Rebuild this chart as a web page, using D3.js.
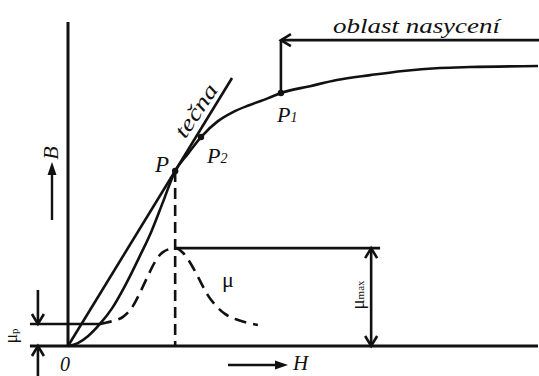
<!DOCTYPE html>
<html><head><meta charset="utf-8">
<script src="https://cdn.jsdelivr.net/npm/d3@7"></script>
<style>html,body{margin:0;padding:0;background:#fff;} svg{display:block;}</style>
</head><body>
<svg id="chart" width="539" height="376"></svg>
<script>
// Magnetization curve B(H), arbitrary units
const curveH = [0, 0.21, 0.43, 0.68, 0.94, 1.21, 1.53, 1.77, 2.02, 2.28, 2.55, 2.83, 3.19, 3.51, 3.87, 4.26, 4.53, 5.15, 5.72, 6.43, 7.13, 7.91, 8.55, 10];
const curveB = [0, 0.09, 0.31, 0.68, 1.17, 1.85, 2.78, 3.52, 4.44, 5.40, 5.93, 6.45, 6.94, 7.22, 7.44, 7.65, 7.81, 8.02, 8.21, 8.36, 8.49, 8.58, 8.61, 8.64];

// Permeability curve mu(H), same units
const muH = [0.68, 0.94, 1.17, 1.38, 1.53, 1.68, 1.85, 2.02, 2.28, 2.45, 2.64, 2.81, 2.96, 3.13, 3.34, 3.62, 4.04];
const muVal = [0.68, 0.77, 0.90, 1.23, 1.64, 2.10, 2.59, 2.90, 3.02, 2.87, 2.47, 2.01, 1.60, 1.27, 0.99, 0.80, 0.65];

// Tangent from the origin through P
const tangentH = [0, 3.49];
const tangentB = [0, 8.27];

// Marked points on the curve
const pointNames = ["P", "P2", "P1"];
const pointH = [2.28, 2.83, 4.53];
const pointB = [5.40, 6.45, 7.81];

// Initial and maximum permeability levels
const muP = 0.68;
const muMax = 3.02;

const svg = d3.select("#chart");
const x = d3.scaleLinear().domain([0, 10]).range([68, 538]);
const y = d3.scaleLinear().domain([0, 10]).range([346, 22]);

const ink = "#111";
const serif = "'Liberation Serif', 'Times New Roman', 'DejaVu Serif', serif";

function seg(x1, y1, x2, y2, w, dash) {
  const l = svg.append("line").attr("x1", x1).attr("y1", y1).attr("x2", x2).attr("y2", y2)
    .attr("stroke", ink).attr("stroke-width", w || 2.6);
  if (dash) l.attr("stroke-dasharray", dash);
  return l;
}
// open "V" arrowhead with tip at (tx,ty) pointing along (dx,dy)
function openHead(tx, ty, dx, dy) {
  const len = 10, half = 6;
  const px = -dy, py = dx;
  const bx = tx - dx * len, by = ty - dy * len;
  svg.append("polyline")
    .attr("points", `${bx + px * half},${by + py * half} ${tx},${ty} ${bx - px * half},${by - py * half}`)
    .attr("fill", "none").attr("stroke", ink).attr("stroke-width", 2.6);
}
// solid triangular arrowhead
function filledHead(tx, ty, dx, dy) {
  const len = 13, half = 4.5;
  const px = -dy, py = dx;
  const bx = tx - dx * len, by = ty - dy * len;
  svg.append("polygon")
    .attr("points", `${bx + px * half},${by + py * half} ${tx},${ty} ${bx - px * half},${by - py * half}`)
    .attr("fill", ink);
}

// axes
seg(x(0), y(0), x(0), y(10), 3);
seg(x(-0.81), y(0), x(10), y(0), 3);

// mu_p level and arrows
seg(x(-0.81), y(muP), x(muP), y(muP), 2.6);
const ax = x(-0.64);
seg(ax, y(1.73), ax, y(muP));
openHead(ax, y(muP), 0, 1);
seg(ax, y(0), ax, 376);
openHead(ax, y(0), 0, -1);

// tangent line
const tan = tangentH.map((h, i) => [h, tangentB[i]]);
svg.append("path").attr("d", d3.line().x(d => x(d[0])).y(d => y(d[1]))(tan))
  .attr("fill", "none").attr("stroke", ink).attr("stroke-width", 2.6);

// B-H curve
const bh = curveH.map((h, i) => [h, curveB[i]]);
svg.append("path").attr("d", d3.line().x(d => x(d[0])).y(d => y(d[1])).curve(d3.curveMonotoneX)(bh))
  .attr("fill", "none").attr("stroke", ink).attr("stroke-width", 2.6);

// mu curve (dashed)
const mu = muH.map((h, i) => [h, muVal[i]]);
svg.append("path").attr("d", d3.line().x(d => x(d[0])).y(d => y(d[1])).curve(d3.curveMonotoneX)(mu))
  .attr("fill", "none").attr("stroke", ink).attr("stroke-width", 2.6).attr("stroke-dasharray", "12,7");

// drop line from P
seg(x(pointH[0]), y(pointB[0]), x(pointH[0]), y(0), 2.6, "11,6");

// mu_max level and arrow
seg(x(pointH[0]), y(muMax), x(6.64), y(muMax));
const mx = x(6.45);
seg(mx, y(muMax), mx, y(0));
openHead(mx, y(muMax), 0, -1);
openHead(mx, y(0), 0, 1);

// saturation region marker
seg(x(pointH[2]), y(pointB[2]), x(pointH[2]), y(9.44));
seg(x(pointH[2]), y(9.44), 539, y(9.44));
openHead(x(pointH[2]), y(9.44), -1, 0);

// points
svg.selectAll("circle.pt").data(pointH).join("circle").attr("class", "pt")
  .attr("cx", (d) => x(d)).attr("cy", (d, i) => y(pointB[i])).attr("r", 3.2).attr("fill", ink);

// B and H arrows
seg(52, 220, 52, 172, 2.4);
filledHead(52, 162, 0, -1);
seg(228, 365, 276, 365, 2.4);
filledHead(288, 365, 1, 0);

function label(txt, tx, ty, size, italic) {
  const t = svg.append("text").attr("x", tx).attr("y", ty).attr("font-family", serif)
    .attr("font-size", size).attr("fill", ink).text(txt);
  if (italic) t.attr("font-style", "italic");
  return t;
}

// axis labels
svg.append("text").attr("transform", "translate(58,153) rotate(-90)").attr("text-anchor", "middle")
  .attr("font-family", serif).attr("font-style", "italic").attr("font-size", 22).attr("fill", ink).text("B");
label("H", 293, 370, 21, true);
label("0", 60, 371, 20, true);

// point labels
label("P", 155, 172, 23, true);
const p2 = label("P", 207, 163, 22, true);
p2.append("tspan").attr("font-size", 14).text("2");
const p1 = label("P", 277, 122, 22, true);
p1.append("tspan").attr("font-size", 14).text("1");

// tangent label
svg.append("text").attr("transform", "translate(207,118) rotate(-56)").attr("text-anchor", "middle")
  .attr("dy", -6).attr("font-family", serif).attr("font-style", "italic").attr("font-size", 22)
  .attr("fill", ink).attr("textLength", 60).attr("lengthAdjust", "spacingAndGlyphs").text("tečna");

// saturation label
label("oblast nasycení", 333, 33, 21, true).attr("textLength", 167).attr("lengthAdjust", "spacingAndGlyphs");

// mu labels
label("μ", 222, 287, 22, false);
const mmax = svg.append("text").attr("transform", "translate(364,295) rotate(-90)").attr("text-anchor", "middle")
  .attr("font-family", serif).attr("font-size", 19).attr("fill", ink).text("μ");
mmax.append("tspan").attr("font-size", 11).text("max");
const mp = svg.append("text").attr("transform", "translate(17,336) rotate(-90)").attr("text-anchor", "middle")
  .attr("font-family", serif).attr("font-size", 18).attr("fill", ink).text("μ");
mp.append("tspan").attr("font-size", 11).attr("dy", 1).text("p");
</script>
</body></html>
